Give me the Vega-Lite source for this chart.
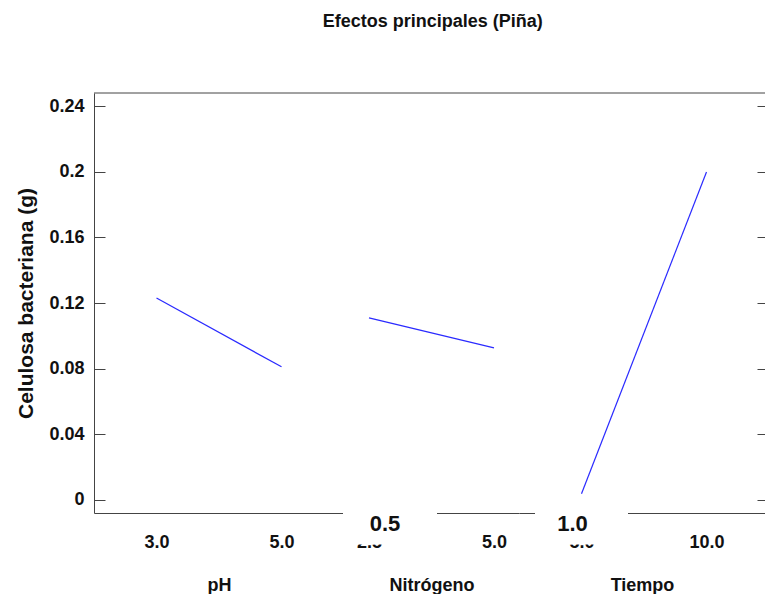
{
  "$schema": "https://vega.github.io/schema/vega-lite/v6.json",
  "background": "white",
  "padding": {"left": 15, "top": 12, "right": 0, "bottom": 0},
  "title": {"text": "Efectos principales (Piña)", "anchor": "middle", "font": "Liberation Sans", "fontSize": 18, "fontWeight": "bold", "color": "#111111", "offset": 62, "dx": 42},
  "config": {
    "font": "Liberation Sans",
    "view": {"stroke": null},
    "axis": {"domainColor": "#444444", "tickColor": "#444444", "labelFont": "Liberation Sans", "labelFontWeight": "bold", "labelFontSize": 18, "labelColor": "#111111", "titleFont": "Liberation Sans", "titleFontWeight": "bold", "titleFontSize": 18, "titleColor": "#111111", "grid": false, "zindex": 0}
  },
  "data": {"values": [
    {"factor": "pH", "nivel": 3.0, "celulosa": 0.1230},
    {"factor": "pH", "nivel": 5.0, "celulosa": 0.0811},
    {"factor": "Nitrógeno", "nivel": 2.5, "celulosa": 0.1109},
    {"factor": "Nitrógeno", "nivel": 5.0, "celulosa": 0.0926},
    {"factor": "Tiempo", "nivel": 5.0, "celulosa": 0.0037},
    {"factor": "Tiempo", "nivel": 10.0, "celulosa": 0.1999}
  ]},
  "spacing": 0,
  "bounds": "flush",
  "hconcat": [
    {
      "width": 250, "height": 420,
      "transform": [{"filter": "datum.factor === 'pH'"}],
      "layer": [
        {
          "mark": {"type": "line", "color": "#2a2aff", "strokeWidth": 1.2},
          "encoding": {
            "x": {"field": "nivel", "type": "quantitative", "scale": {"domain": [2, 6], "nice": false},
              "axis": {"values": [3, 5], "format": ".1f", "ticks": false, "labelFlush": false, "labelPadding": 20, "titlePadding": 25, "title": "pH"}},
            "y": {"field": "celulosa", "type": "quantitative", "scale": {"domain": [-0.008, 0.248], "nice": false},
              "axis": {"values": [0,0.01,0.02,0.03,0.04,0.05,0.06,0.07,0.08,0.09,0.1,0.11,0.12,0.13,0.14,0.15,0.16,0.17,0.18,0.19,0.2,0.21,0.22,0.23,0.24],
                "labelExpr": "abs(round(datum.value*100) % 4) == 0 ? format(datum.value, '~g') : ''",
                "tickSize": {"condition": {"test": "abs(round(datum.value*100) % 4) == 0", "value": -11}, "value": -5},
                "labelPadding": 21, "labelFlush": false, "labelOverlap": false,
                "title": "Celulosa bacteriana (g)", "titleFontSize": 21, "titlePadding": 12}}
          }
        },
        {
          "data": {"values": [{}]},
          "mark": {"type": "rule", "color": "#444444"},
          "encoding": {"y": {"datum": 0.248, "type": "quantitative", "scale": {"domain": [-0.008, 0.248], "nice": false}}}
        }
      ]
    },
    {
      "width": 175, "height": 420,
      "transform": [{"filter": "datum.factor === 'Nitrógeno'"}],
      "layer": [
        {
          "mark": {"type": "line", "color": "#2a2aff", "strokeWidth": 1.2},
          "encoding": {
            "x": {"field": "nivel", "type": "quantitative", "scale": {"domain": [2, 5.5], "nice": false},
              "axis": {"values": [2.5, 5], "format": ".1f", "ticks": false, "labelFlush": false, "labelPadding": 20, "titlePadding": 25, "title": "Nitrógeno"}},
            "y": {"field": "celulosa", "type": "quantitative", "scale": {"domain": [-0.008, 0.248], "nice": false}, "axis": null}
          }
        },
        {
          "data": {"values": [{}]},
          "mark": {"type": "rule", "color": "#444444"},
          "encoding": {"y": {"datum": 0.248, "type": "quantitative", "scale": {"domain": [-0.008, 0.248], "nice": false}, "axis": null}}
        },
        {
          "data": {"values": [{}]},
          "mark": {"type": "rect", "color": "white", "opacity": 1},
          "encoding": {
            "x": {"datum": 1.98, "type": "quantitative", "scale": {"domain": [2, 5.5], "nice": false}},
            "x2": {"datum": 3.86},
            "y": {"datum": -0.0024, "type": "quantitative", "scale": {"domain": [-0.008, 0.248], "nice": false}, "axis": null},
            "y2": {"datum": -0.0272}
          }
        },
        {
          "data": {"values": [{}]},
          "mark": {"type": "text", "text": "0.5", "font": "Liberation Sans", "fontSize": 22, "fontWeight": "bold", "color": "#111111", "align": "center", "baseline": "middle"},
          "encoding": {
            "x": {"datum": 2.82, "type": "quantitative", "scale": {"domain": [2, 5.5], "nice": false}},
            "y": {"datum": -0.0146, "type": "quantitative", "scale": {"domain": [-0.008, 0.248], "nice": false}, "axis": null}
          }
        }
      ]
    },
    {
      "width": 246, "height": 420,
      "transform": [{"filter": "datum.factor === 'Tiempo'"}],
      "layer": [
        {
          "mark": {"type": "line", "color": "#2a2aff", "strokeWidth": 1.2},
          "encoding": {
            "x": {"field": "nivel", "type": "quantitative", "scale": {"domain": [2.5, 12.34], "nice": false},
              "axis": {"values": [5, 10], "format": ".1f", "ticks": false, "labelFlush": false, "labelPadding": 20, "titlePadding": 25, "title": "Tiempo"}},
            "y": {"field": "celulosa", "type": "quantitative", "scale": {"domain": [-0.008, 0.248], "nice": false},
              "axis": {"orient": "right", "values": [0,0.01,0.02,0.03,0.04,0.05,0.06,0.07,0.08,0.09,0.1,0.11,0.12,0.13,0.14,0.15,0.16,0.17,0.18,0.19,0.2,0.21,0.22,0.23,0.24],
                "labels": false, "domain": false, "title": null,
                "tickSize": {"condition": {"test": "abs(round(datum.value*100) % 4) == 0", "value": -8}, "value": -2}}}
          }
        },
        {
          "data": {"values": [{}]},
          "mark": {"type": "rule", "color": "#444444"},
          "encoding": {"y": {"datum": 0.248, "type": "quantitative", "scale": {"domain": [-0.008, 0.248], "nice": false}}}
        },
        {
          "data": {"values": [{}]},
          "mark": {"type": "rect", "color": "white", "opacity": 1},
          "encoding": {
            "x": {"datum": 3.14, "type": "quantitative", "scale": {"domain": [2.5, 12.34], "nice": false}},
            "x2": {"datum": 6.86},
            "y": {"datum": -0.0024, "type": "quantitative", "scale": {"domain": [-0.008, 0.248], "nice": false}},
            "y2": {"datum": -0.0272}
          }
        },
        {
          "data": {"values": [{}]},
          "mark": {"type": "text", "text": "1.0", "font": "Liberation Sans", "fontSize": 22, "fontWeight": "bold", "color": "#111111", "align": "center", "baseline": "middle"},
          "encoding": {
            "x": {"datum": 4.64, "type": "quantitative", "scale": {"domain": [2.5, 12.34], "nice": false}},
            "y": {"datum": -0.0146, "type": "quantitative", "scale": {"domain": [-0.008, 0.248], "nice": false}}
          }
        }
      ]
    }
  ]
}
